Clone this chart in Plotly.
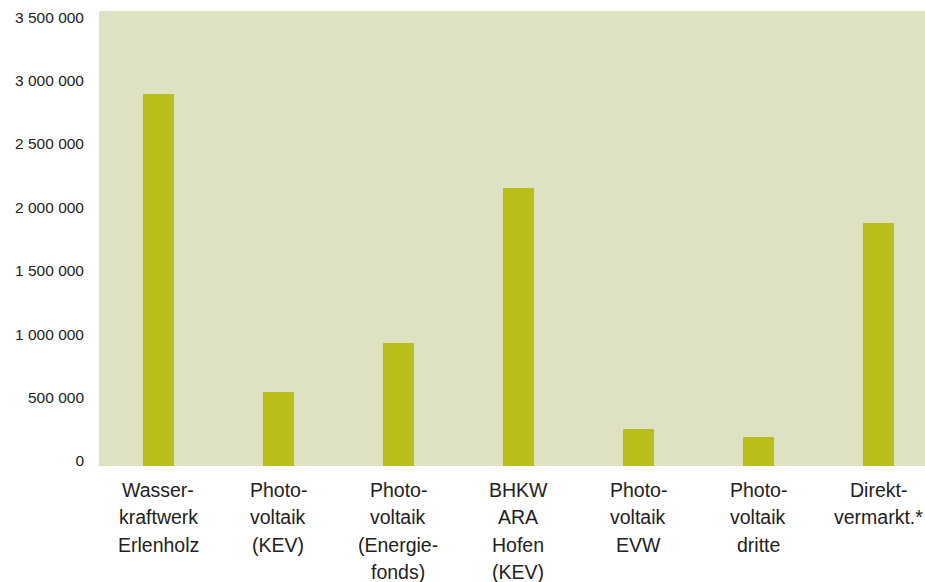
import plotly.graph_objects as go

categories = [
    "Wasser-<br>kraftwerk<br>Erlenholz",
    "Photo-<br>voltaik<br>(KEV)",
    "Photo-<br>voltaik<br>(Energie-<br>fonds)",
    "BHKW<br>ARA<br>Hofen<br>(KEV)",
    "Photo-<br>voltaik<br>EVW",
    "Photo-<br>voltaik<br>dritte",
    "Direkt-<br>vermarkt.*",
]
values = [2934000, 584000, 970000, 2192000, 292000, 229000, 1916000]
y_ticks = [0, 500000, 1000000, 1500000, 2000000, 2500000, 3000000, 3500000]
y_tick_labels = ["0", "500 000", "1 000 000", "1 500 000", "2 000 000",
                 "2 500 000", "3 000 000", "3 500 000"]

x_idx = list(range(len(categories)))

fig = go.Figure()
fig.add_trace(go.Bar(
    x=x_idx, y=values, width=0.256,
    marker=dict(color="#B8BE1A", line=dict(width=0)),
    hoverinfo="skip",
))

annotations = []
for i, cat in enumerate(categories):
    for j, line in enumerate(cat.split("<br>")):
        annotations.append(dict(
            x=i, xref="x", y=0, yref="paper", text=line, showarrow=False,
            xanchor="center", yanchor="middle",
            yshift=-(24 + j * 27.3),
            font=dict(family="Liberation Sans, Arial, sans-serif", size=19.5, color="#222222"),
        ))

fig.update_layout(
    width=925, height=582,
    margin=dict(l=99, r=0, t=11, b=116, pad=0),
    paper_bgcolor="white",
    plot_bgcolor="#DFE1C3",
    showlegend=False,
    bargap=0,
    annotations=annotations,
    xaxis=dict(
        range=[-0.494, 6.39], showticklabels=False, showgrid=False,
        zeroline=False, showline=False, ticks="", fixedrange=True,
    ),
    yaxis=dict(
        range=[0, 3588000], tickvals=y_ticks, ticktext=y_tick_labels,
        showgrid=False, zeroline=False, showline=False, ticks="",
        ticklabelshift=-5, ticklabelstandoff=14, fixedrange=True,
        tickfont=dict(family="Liberation Sans, Arial, sans-serif", size=15.5, color="#222222"),
    ),
)

fig.write_html(
    "out.html",
    config={"displayModeBar": False},
    post_script="document.body.style.margin='0';document.body.style.overflow='hidden';",
)
